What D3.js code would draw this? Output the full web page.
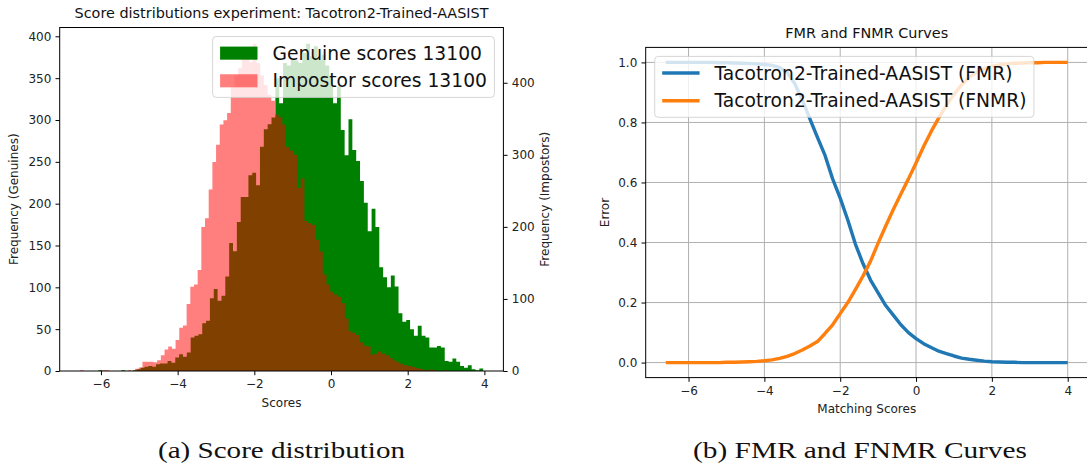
<!DOCTYPE html>
<html>
<head>
<meta charset="utf-8">
<script src="https://cdn.jsdelivr.net/npm/d3@7"></script>
<style>
  body { margin: 0; background: #fff; }
  svg text { font-family: "DejaVu Sans", sans-serif; }
</style>
</head>
<body>
<svg id="fig" width="1087" height="468"></svg>
<script>
// ---------- Score histograms (100 bins each) ----------
const genuineStart = -6.07;
const genuineBinWidth = 0.1004;
const genuineCounts = [
  1, 0, 0, 0, 0, 0, 1, 0, 0, 1,
  2, 4, 5, 6, 5, 8, 9, 9, 12, 10,
  16, 20, 17, 22, 40, 42, 44, 57, 60, 87,
  98, 84, 90, 113, 153, 143, 178, 208, 208, 234,
  237, 222, 268, 289, 295, 303, 350, 320, 368, 365,
  374, 371, 368, 380, 391, 376, 388, 372, 378, 365,
  352, 320, 340, 288, 258, 301, 264, 251, 227, 201,
  167, 194, 172, 124, 112, 100, 114, 101, 69, 59,
  61, 50, 42, 54, 42, 40, 28, 28, 30, 28,
  12, 11, 15, 11, 6, 4, 7, 2, 1, 3
];
const impostorStart = -6.55;
const impostorBinWidth = 0.096;
const impostorCounts = [
  1, 0, 0, 0, 0, 0, 1, 1, 0, 0,
  0, 0, 0, 1, 0, 3, 5, 13, 13, 13,
  12, 15, 22, 30, 34, 31, 43, 60, 63, 93,
  117, 120, 140, 200, 212, 252, 290, 314, 342, 348,
  358, 394, 410, 420, 434, 437, 429, 454, 427, 410,
  397, 383, 375, 356, 352, 342, 311, 306, 300, 254,
  267, 208, 205, 203, 182, 166, 134, 120, 110, 106,
  103, 94, 73, 55, 53, 50, 40, 35, 34, 23,
  24, 27, 24, 22, 18, 15, 12, 10, 8, 7,
  6, 4, 3, 2, 1, 2, 1, 0, 0, 1
];
const histLegend = ["Genuine scores 13100", "Impostor scores 13100"];
const scoreTicks = [-6, -4, -2, 0, 2, 4];
const genuineTicks = [0, 50, 100, 150, 200, 250, 300, 350, 400];
const impostorTicks = [0, 100, 200, 300, 400];

// ---------- Error-rate curves ----------
const thresholds = [
  -6.6, -6.4, -6.2, -6.0, -5.8, -5.6, -5.4, -5.2, -5.0, -4.8,
  -4.6, -4.4, -4.2, -4.0, -3.8, -3.6, -3.4, -3.2, -3.0, -2.8,
  -2.6, -2.4, -2.2, -2.0, -1.8, -1.6, -1.4, -1.2, -1.0, -0.8,
  -0.6, -0.4, -0.2, 0.0, 0.2, 0.4, 0.6, 0.8, 1.0, 1.2,
  1.4, 1.6, 1.8, 2.0, 2.2, 2.4, 2.6, 2.8, 3.0, 3.2,
  3.4, 3.6, 3.8, 4.0
];
const fmr = [
  1.000, 1.000, 1.000, 1.000, 1.000, 1.000, 1.000, 0.999, 0.999, 0.998,
  0.997, 0.996, 0.995, 0.993, 0.990, 0.983, 0.967, 0.930, 0.875, 0.812,
  0.750, 0.690, 0.612, 0.548, 0.475, 0.395, 0.330, 0.275, 0.232, 0.190,
  0.158, 0.126, 0.100, 0.080, 0.063, 0.050, 0.038, 0.030, 0.022, 0.015,
  0.011, 0.008, 0.005, 0.003, 0.002, 0.001, 0.001, 0.000, 0.000, 0.000,
  0.000, 0.000, 0.000, 0.000
];
const fnmr = [
  0.000, 0.000, 0.000, 0.000, 0.000, 0.000, 0.000, 0.000, 0.001, 0.001,
  0.002, 0.003, 0.004, 0.006, 0.009, 0.014, 0.021, 0.030, 0.042, 0.055,
  0.070, 0.097, 0.126, 0.163, 0.200, 0.243, 0.288, 0.338, 0.398, 0.455,
  0.510, 0.562, 0.612, 0.665, 0.720, 0.770, 0.815, 0.857, 0.893, 0.925,
  0.950, 0.968, 0.980, 0.987, 0.992, 0.995, 0.997, 0.998, 0.999, 0.999,
  1.000, 1.000, 1.000, 1.000
];
const curveLegend = ["Tacotron2-Trained-AASIST (FMR)", "Tacotron2-Trained-AASIST (FNMR)"];
const errorTicks = [0, 0.2, 0.4, 0.6, 0.8, 1.0];

// ---------- Styling ----------
const GREEN = "#008000", RED = "#ff0000", BLUE = "#1f77b4", ORANGE = "#ff7f0e";
const TICK = 4.2, PAD = 4.2, FS = 12, TITLE_FS = 14.4, LEG_FS = 18.7, LINE_W = 3.4;

const svg = d3.select("#fig");

// data extent with 5% margins on each side
function padded(lo, hi) { const m = (hi - lo) * 0.05; return [lo - m, hi + m]; }

function styleAxis(g) {
  g.select(".domain").remove();
  g.selectAll(".tick line").attr("stroke", "#000").attr("stroke-width", 1);
  g.selectAll(".tick text").attr("font-size", FS).attr("fill", "#222")
    .attr("font-family", "DejaVu Sans, sans-serif");
}

function drawLegend(items, opts) {
  const g = svg.append("g");
  const bp = 0.4 * LEG_FS, ls = 0.5 * LEG_FS, hl = 2 * LEG_FS, htp = 0.8 * LEG_FS, hh = 0.7 * LEG_FS;
  const rowH = 18.3;
  const box = g.append("rect").attr("fill", "#fff").attr("fill-opacity", 0.8)
    .attr("stroke", "#cccccc").attr("stroke-opacity", 0.8).attr("stroke-width", 1)
    .attr("rx", 3.6).attr("ry", 3.6);
  const texts = items.map(it => g.append("text").attr("font-size", LEG_FS).attr("fill", "#111").text(it.label));
  const tw = d3.max(texts, t => t.node().getComputedTextLength());
  const W = bp + hl + htp + tw + bp;
  const H = bp * 2 + rowH * 2 + ls;
  const x0 = opts.anchor === "right" ? opts.x - W : opts.x;
  const y0 = opts.y;
  box.attr("x", x0).attr("y", y0).attr("width", W).attr("height", H);
  items.forEach((it, i) => {
    const cy = y0 + bp + rowH / 2 + i * (rowH + ls);
    if (it.kind === "patch") {
      g.insert("rect", "text").attr("x", x0 + bp).attr("y", cy - hh / 2).attr("width", hl).attr("height", hh)
        .attr("fill", it.color).attr("fill-opacity", it.opacity);
    } else {
      g.insert("line", "text").attr("x1", x0 + bp).attr("x2", x0 + bp + hl).attr("y1", cy).attr("y2", cy)
        .attr("stroke", it.color).attr("stroke-width", LINE_W);
    }
    texts[i].attr("x", x0 + bp + hl + htp).attr("y", cy + 6.7);
  });
}

// ================= Panel (a): score distributions =================
(function () {
  const L = 59.7, R = 503.4, T = 27.5, B = 371;
  const xLo = d3.min([genuineStart, impostorStart]);
  const xHi = d3.max([genuineStart + genuineCounts.length * genuineBinWidth,
                      impostorStart + impostorCounts.length * impostorBinWidth]);
  const x = d3.scaleLinear().domain(padded(xLo, xHi)).range([L, R]);
  const yG = d3.scaleLinear().domain([0, d3.max(genuineCounts) * 1.05]).range([B, T]);
  const yI = d3.scaleLinear().domain([0, d3.max(impostorCounts) * 1.05]).range([B, T]);

  const clip = svg.append("clipPath").attr("id", "clipA");
  clip.append("rect").attr("x", L).attr("y", T).attr("width", R - L).attr("height", B - T);

  function bins(start, w, counts) {
    const pts = counts.map((c, i) => ({ s: start + i * w, c }));
    pts.push({ s: start + counts.length * w, c: counts[counts.length - 1] });
    return pts;
  }
  const area = (y) => d3.area().x(d => x(d.s)).y0(y(0)).y1(d => y(d.c)).curve(d3.curveStepAfter);

  const plot = svg.append("g").attr("clip-path", "url(#clipA)");
  plot.append("path").datum(bins(genuineStart, genuineBinWidth, genuineCounts))
    .attr("d", area(yG)).attr("fill", GREEN);
  plot.append("path").datum(bins(impostorStart, impostorBinWidth, impostorCounts))
    .attr("d", area(yI)).attr("fill", RED).attr("fill-opacity", 0.5);

  // axes
  const fmt = d3.format("d");
  svg.append("g").attr("transform", `translate(0,${B})`)
    .call(d3.axisBottom(x).tickValues(scoreTicks).tickFormat(fmt).tickSize(TICK).tickPadding(PAD)).call(styleAxis);
  svg.append("g").attr("transform", `translate(${L},0)`)
    .call(d3.axisLeft(yG).tickValues(genuineTicks).tickFormat(fmt).tickSize(TICK).tickPadding(PAD)).call(styleAxis);
  svg.append("g").attr("transform", `translate(${R},0)`)
    .call(d3.axisRight(yI).tickValues(impostorTicks).tickFormat(fmt).tickSize(TICK).tickPadding(PAD)).call(styleAxis);

  svg.append("rect").attr("x", L).attr("y", T).attr("width", R - L).attr("height", B - T)
    .attr("fill", "none").attr("stroke", "#000").attr("stroke-width", 1);

  // labels
  svg.append("text").attr("x", (L + R) / 2).attr("y", 18).attr("text-anchor", "middle")
    .attr("font-size", TITLE_FS).attr("fill", "#111").text("Score distributions experiment: Tacotron2-Trained-AASIST");
  svg.append("text").attr("x", (L + R) / 2).attr("y", 407).attr("text-anchor", "middle")
    .attr("font-size", FS).attr("fill", "#222").text("Scores");
  svg.append("text").attr("transform", `translate(18,${(T + B) / 2}) rotate(-90)`).attr("text-anchor", "middle")
    .attr("font-size", FS).attr("fill", "#222").text("Frequency (Genuines)");
  svg.append("text").attr("transform", `translate(549,${(T + B) / 2}) rotate(-90)`).attr("text-anchor", "middle")
    .attr("font-size", FS).attr("fill", "#222").text("Frequency (Impostors)");

  drawLegend([
    { label: histLegend[0], kind: "patch", color: GREEN, opacity: 1 },
    { label: histLegend[1], kind: "patch", color: RED, opacity: 0.5 }
  ], { anchor: "right", x: R - 9, y: T + 9 });
})();

// ================= Panel (b): FMR / FNMR curves =================
(function () {
  const L = 645.7, R = 1087.8, T = 47.4, B = 377.6;
  const x = d3.scaleLinear().domain(padded(d3.min(thresholds), d3.max(thresholds))).range([L, R]);
  const y = d3.scaleLinear().domain(padded(0, 1)).range([B, T]);

  // grid
  const grid = svg.append("g").attr("stroke", "#b0b0b0").attr("stroke-width", 1);
  scoreTicks.forEach(v => grid.append("line").attr("x1", x(v)).attr("x2", x(v)).attr("y1", T).attr("y2", B));
  errorTicks.forEach(v => grid.append("line").attr("x1", L).attr("x2", R).attr("y1", y(v)).attr("y2", y(v)));

  const line = (vals) => d3.line().x((d, i) => x(thresholds[i])).y(d => y(d))(vals);
  svg.append("path").attr("d", line(fmr)).attr("fill", "none").attr("stroke", BLUE)
    .attr("stroke-width", LINE_W).attr("stroke-linejoin", "round").attr("stroke-linecap", "butt");
  svg.append("path").attr("d", line(fnmr)).attr("fill", "none").attr("stroke", ORANGE)
    .attr("stroke-width", LINE_W).attr("stroke-linejoin", "round").attr("stroke-linecap", "butt");

  svg.append("g").attr("transform", `translate(0,${B})`)
    .call(d3.axisBottom(x).tickValues(scoreTicks).tickFormat(d3.format("d")).tickSize(TICK).tickPadding(PAD)).call(styleAxis);
  svg.append("g").attr("transform", `translate(${L},0)`)
    .call(d3.axisLeft(y).tickValues(errorTicks).tickFormat(d3.format(".1f")).tickSize(TICK).tickPadding(PAD)).call(styleAxis);

  svg.append("rect").attr("x", L).attr("y", T).attr("width", R - L).attr("height", B - T)
    .attr("fill", "none").attr("stroke", "#000").attr("stroke-width", 1);

  svg.append("text").attr("x", (L + R) / 2).attr("y", 38).attr("text-anchor", "middle")
    .attr("font-size", TITLE_FS).attr("fill", "#111").text("FMR and FNMR Curves");
  svg.append("text").attr("x", (L + R) / 2).attr("y", 413).attr("text-anchor", "middle")
    .attr("font-size", FS).attr("fill", "#222").text("Matching Scores");
  svg.append("text").attr("transform", `translate(609,${(T + B) / 2}) rotate(-90)`).attr("text-anchor", "middle")
    .attr("font-size", FS).attr("fill", "#222").text("Error");

  drawLegend([
    { label: curveLegend[0], kind: "line", color: BLUE },
    { label: curveLegend[1], kind: "line", color: ORANGE }
  ], { anchor: "left", x: L + 9, y: T + 9 });
})();

// ---------- Sub-figure captions ----------
[["(a) Score distribution", 281.5, 247], ["(b) FMR and FNMR Curves", 860, 334]].forEach(([txt, cx, w]) => {
  const t = svg.append("text").attr("text-anchor", "middle").attr("font-size", 24)
    .attr("font-family", "Liberation Serif, serif").style("font-family", "'Liberation Serif', serif")
    .attr("fill", "#111").text(txt);
  const k = w / t.node().getComputedTextLength();
  t.attr("transform", `translate(${cx},458) scale(${k},1)`);
});
</script>
</body>
</html>
